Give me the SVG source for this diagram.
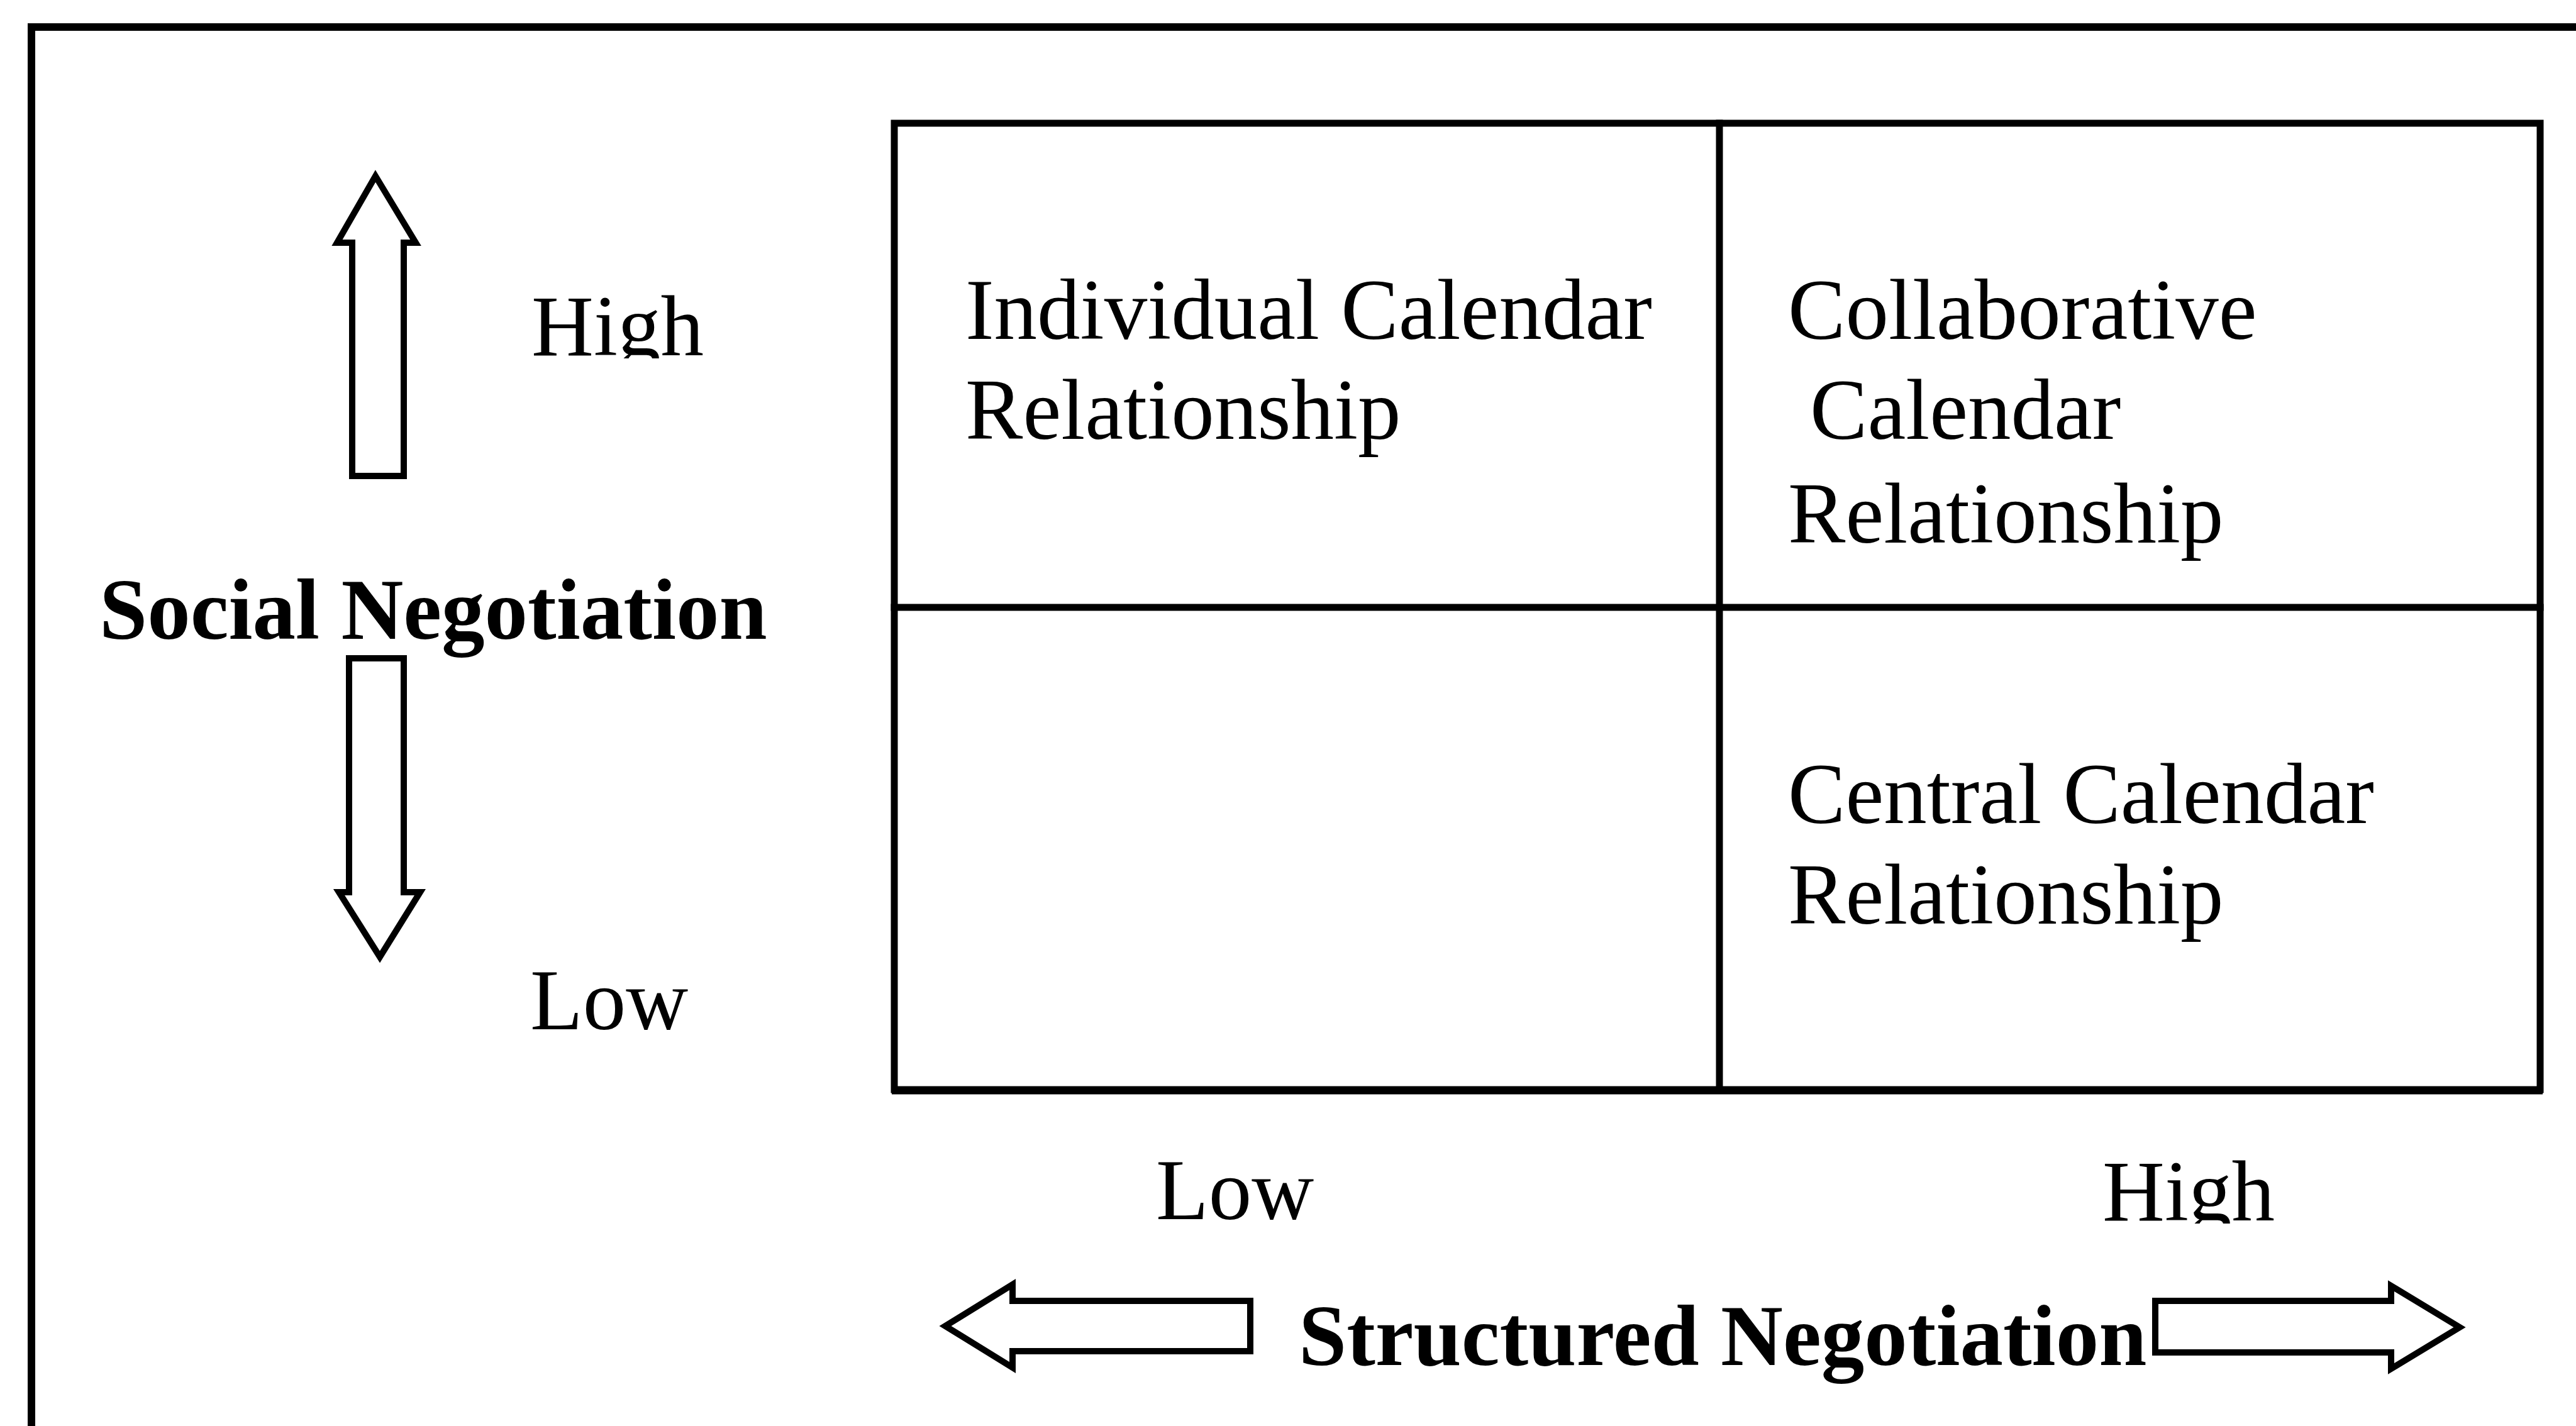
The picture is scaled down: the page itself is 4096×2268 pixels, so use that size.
<svg xmlns="http://www.w3.org/2000/svg" width="4096" height="2268" viewBox="0 0 4096 2268">
  <style>
    .lbl { font-family: "Liberation Serif", "Times New Roman", serif; font-size: 137px; fill: #000; }
    .bold { font-weight: bold; }
    .grid { fill: none; stroke: #000; stroke-width: 11; stroke-linecap: square; }
    .arrow { fill: #fff; stroke: #000; stroke-width: 10; stroke-linejoin: miter; }
  </style>
  <defs>
    <clipPath id="clipHighLeft"><rect x="790" y="400" width="400" height="170"/></clipPath>
    <clipPath id="clipHighBottom"><rect x="3290" y="1780" width="400" height="166"/></clipPath>
  </defs>
  <rect x="0" y="0" width="4096" height="2268" fill="#fff"/>

  <!-- outer frame, running off the right and bottom edges -->
  <g id="frame">
    <path d="M 4100 43 L 50 43 L 50 2270" fill="none" stroke="#000" stroke-width="12"/>
  </g>

  <!-- 2x2 matrix -->
  <g id="matrix">
    <rect class="grid" x="1422" y="196" width="2617" height="1537"/>
    <line class="grid" x1="2734" y1="196" x2="2734" y2="1733"/>
    <line class="grid" x1="1422" y1="966" x2="4039" y2="966"/>
    <line x1="1418" y1="1736" x2="4043" y2="1736" stroke="#000" stroke-width="9"/>
  </g>

  <g id="cell-individual">
    <text class="lbl" x="1535" y="539">Individual Calendar</text>
    <text class="lbl" x="1535" y="698">Relationship</text>
  </g>
  <g id="cell-collaborative">
    <text class="lbl" x="2843" y="539">Collaborative</text>
    <text class="lbl" x="2878" y="698">Calendar</text>
    <text class="lbl" x="2843" y="863">Relationship</text>
  </g>
  <g id="cell-central">
    <text class="lbl" x="2843" y="1309">Central Calendar</text>
    <text class="lbl" x="2843" y="1469">Relationship</text>
  </g>

  <!-- vertical axis -->
  <g id="axis-social">
    <text class="lbl bold" x="158" y="1016">Social Negotiation</text>
    <text class="lbl" x="845" y="565" clip-path="url(#clipHighLeft)">High</text>
    <text class="lbl" x="843" y="1637">Low</text>
  </g>

  <!-- horizontal axis -->
  <g id="axis-structured">
    <text class="lbl bold" x="2065" y="2171">Structured Negotiation</text>
    <text class="lbl" x="1838" y="1939">Low</text>
    <text class="lbl" x="3343" y="1941" clip-path="url(#clipHighBottom)">High</text>
  </g>

  <!-- block arrows -->
  <g id="connectors">
    <polygon class="arrow" points="597,280 661,386 642,386 642,757 560,757 560,386 536,386"/>
    <polygon class="arrow" points="555,1047 642,1047 642,1419 668,1419 604,1522 539,1419 555,1419"/>
    <polygon class="arrow" points="1503,2109 1610,2043 1610,2069 1988,2069 1988,2149 1610,2149 1610,2175"/>
    <polygon class="arrow" points="3427,2069 3802,2069 3802,2045 3911,2111 3802,2177 3802,2151 3427,2151"/>
  </g>
</svg>
